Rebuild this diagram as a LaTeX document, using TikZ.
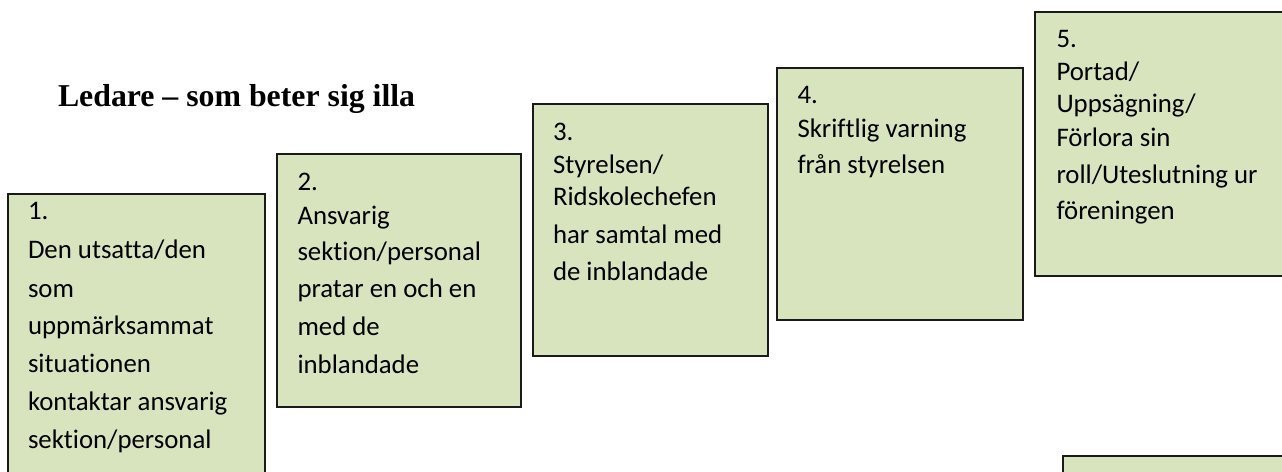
\documentclass[tikz,border=0pt]{standalone}
\usepackage{fontspec}
\setmainfont{Carlito}[Ligatures=NoCommon]
\newfontfamily\titlefont{Liberation Serif}
\definecolor{boxfill}{HTML}{D7E4BD}
\definecolor{boxline}{HTML}{1A1A1A}
\begin{document}
\begin{tikzpicture}[x=0.5pt,y=-0.5pt,
  stepbox/.style={draw=boxline, fill=boxfill, line width=1pt, rectangle, anchor=north west, inner sep=0pt, outer sep=0pt},
  txt/.style={anchor=base west, inner sep=0pt, outer sep=0pt, text=black, font=\fontsize{13.4pt}{16pt}\selectfont},
  ttl/.style={anchor=base west, inner sep=0pt, outer sep=0pt, text=black, font=\titlefont\bfseries\fontsize{15.9pt}{19pt}\selectfont}]
\useasboundingbox (0,0) rectangle (1282,472);
\clip (0,0) rectangle (1282,472);
\fill[white] (0,0) rectangle (1282,472);

% title
\node[ttl] (title) at (58,106) {Ledare – som beter sig illa};

% boxes
\node[stepbox, minimum width=128.5pt, minimum height=160pt] (b1) at (8,194) {};
\node[stepbox, minimum width=122pt, minimum height=126.5pt] (b2) at (277,154) {};
\node[stepbox, minimum width=117.5pt, minimum height=126pt] (b3) at (533,104) {};
\node[stepbox, minimum width=123pt, minimum height=126pt] (b4) at (777,68) {};
\node[stepbox, minimum width=130pt, minimum height=132pt] (b5) at (1035,12) {};
\node[stepbox, minimum width=130pt, minimum height=40pt] (b6) at (1063,456) {};

% box 1 text
\node[txt] (t1a) at (28,219) {1.};
\node[txt] (t1b) at (28,258) {Den utsatta/den};
\node[txt] (t1c) at (28,297) {som};
\node[txt] (t1d) at (28,334) {uppmärksammat};
\node[txt] (t1e) at (28,372) {situationen};
\node[txt] (t1f) at (28,410) {kontaktar ansvarig};
\node[txt] (t1g) at (28,448) {sektion/personal};

% box 2 text
\node[txt] (t2a) at (297.5,190) {2.};
\node[txt] (t2b) at (297.5,224) {Ansvarig};
\node[txt] (t2c) at (297.5,260) {sektion/personal};
\node[txt] (t2d) at (297.5,297) {pratar en och en};
\node[txt] (t2e) at (297.5,335) {med de};
\node[txt] (t2f) at (297.5,373) {inblandade};

% box 3 text
\node[txt] (t3a) at (553,140) {3.};
\node[txt] (t3b) at (553,173) {Styrelsen/};
\node[txt] (t3c) at (553,205) {Ridskolechefen};
\node[txt] (t3d) at (553,243) {har samtal med};
\node[txt] (t3e) at (553,280) {de inblandade};

% box 4 text
\node[txt] (t4a) at (797.5,103) {4.};
\node[txt] (t4b) at (797.5,137.5) {Skriftlig varning};
\node[txt] (t4c) at (797.5,173.5) {från styrelsen};

% box 5 text
\node[txt] (t5a) at (1056.5,47.5) {5.};
\node[txt] (t5b) at (1056.5,80.5) {Portad/};
\node[txt] (t5c) at (1056.5,112.5) {Uppsägning/};
\node[txt] (t5d) at (1056.5,146) {Förlora sin};
\node[txt] (t5e) at (1056.5,183) {roll/Uteslutning ur};
\node[txt] (t5f) at (1056.5,219) {föreningen};
\end{tikzpicture}
\end{document}
